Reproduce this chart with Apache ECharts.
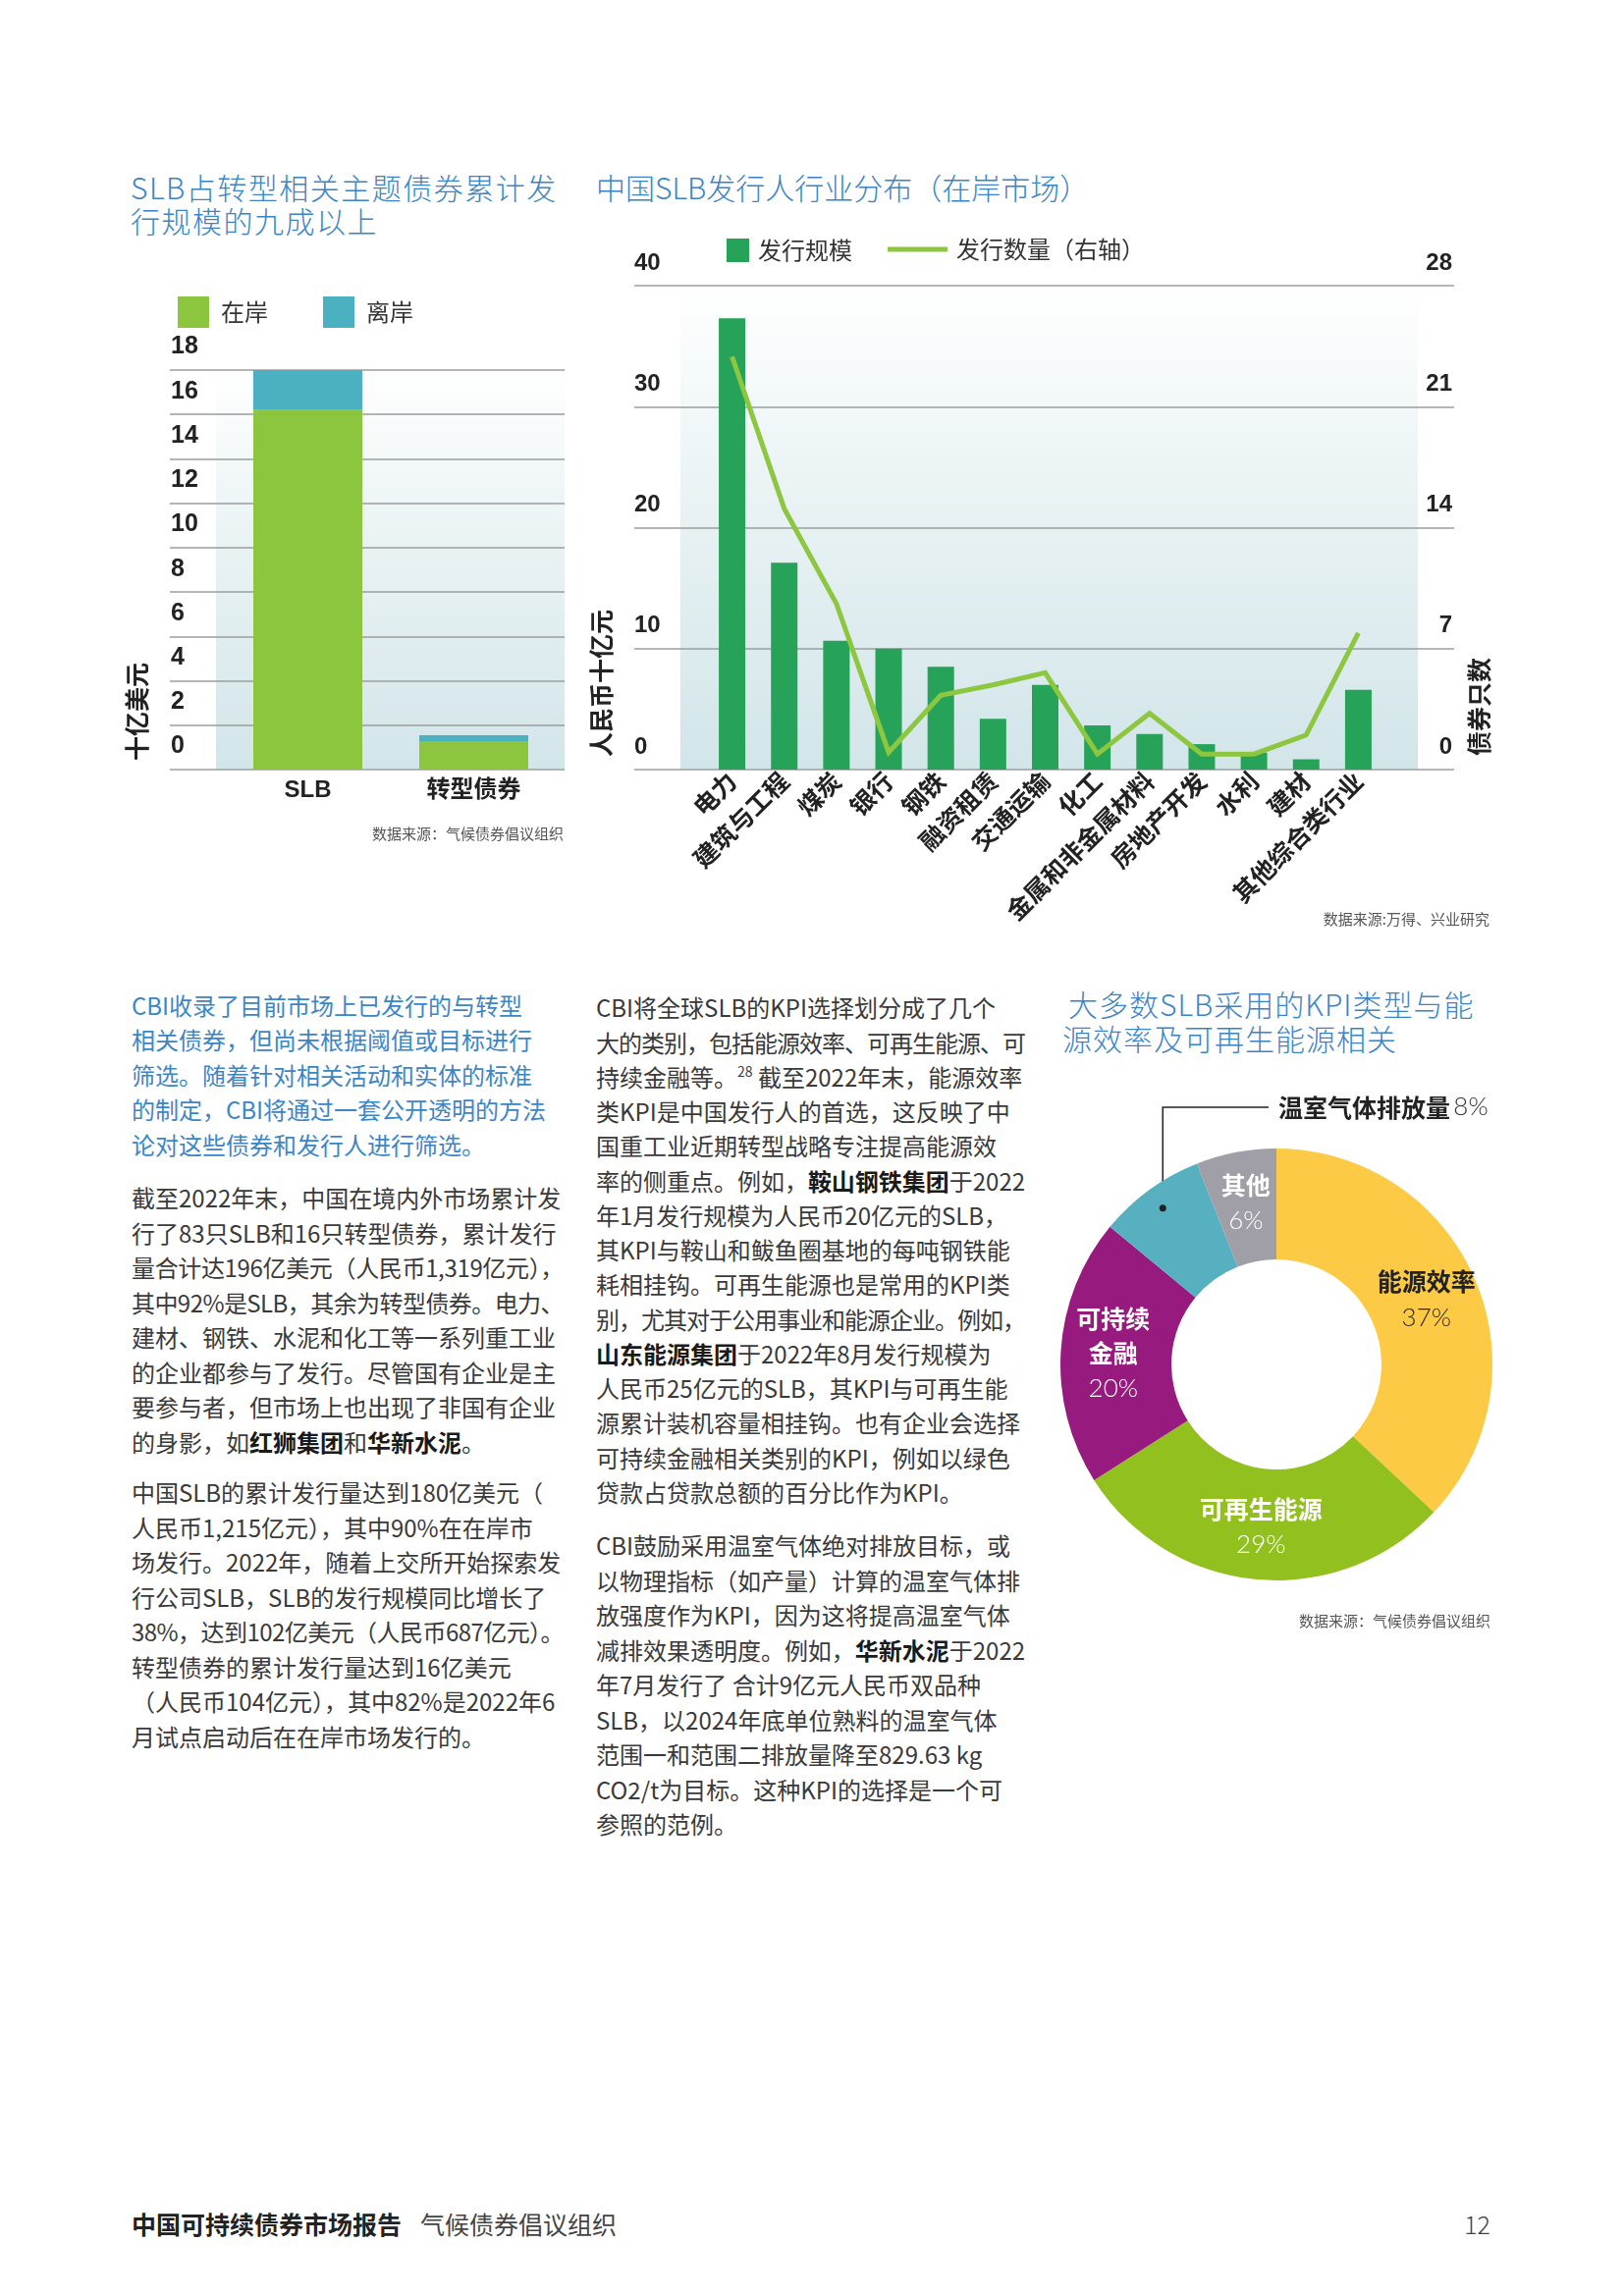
<!DOCTYPE html>
<html><head><meta charset="utf-8">
<script src="https://cdn.jsdelivr.net/npm/echarts/dist/echarts.min.js"></script>
<style>
html,body{margin:0;padding:0;background:#fff;}
body{width:1654px;height:2339px;position:relative;overflow:hidden;font-family:'Noto Sans CJK SC','Noto Sans',sans-serif;}
.abs{position:absolute;white-space:nowrap;}
.title{color:#3d84c4;font-size:30px;line-height:34px;font-weight:300;}
.src{font-size:15px;line-height:20px;color:#555;}
.vname{font-size:25px;font-weight:700;color:#222;transform:translate(-50%,-50%) rotate(-90deg);line-height:30px;}
.p{position:absolute;font-size:24px;color:#3a3a3a;white-space:nowrap;}
.p div{white-space:nowrap;}
.p b{color:#1a1a1a;font-weight:700;}
.blue{color:#3d86c6;}
.chart{position:absolute;}
sup{font-size:14px;line-height:0;vertical-align:10px;}
</style></head>
<body>

<div class="abs title" style="left:133px;top:173px;letter-spacing:1.5px;">SLB占转型相关主题债券累计发<br>行规模的九成以上</div>
<div class="abs title" style="left:607px;top:173px;">中国SLB发行人行业分布（在岸市场）</div>
<div class="abs title" style="left:1088px;top:1005px;letter-spacing:1px;">大多数SLB采用的KPI类型与能</div>
<div class="abs title" style="left:1082px;top:1040px;letter-spacing:1px;">源效率及可再生能源相关</div>

<div id="c1" class="chart" style="left:100px;top:270px;width:520px;height:570px;"></div>
<div id="c2" class="chart" style="left:590px;top:220px;width:960px;height:740px;"></div>
<div id="c3" class="chart" style="left:1060px;top:1090px;width:500px;height:580px;"></div>

<div class="abs vname" style="left:138px;top:725px;">十亿美元</div>
<div class="abs vname" style="left:611px;top:696px;">人民币十亿元</div>
<div class="abs vname" style="left:1505px;top:720px;">债券只数</div>

<div class="abs src" style="right:1080px;top:839px;">数据来源：气候债券倡议组织</div>
<div class="abs src" style="right:137px;top:926px;">数据来源:万得、兴业研究</div>
<div class="abs src" style="right:136px;top:1641px;">数据来源：气候债券倡议组织</div>

<div class="p blue" data-w="440" style="left:134px;top:1005.75px;line-height:35.5px;">
<div>CBI收录了目前市场上已发行的与转型</div>
<div>相关债券，但尚未根据阈值或目标进行</div>
<div>筛选。随着针对相关活动和实体的标准</div>
<div>的制定，CBI将通过一套公开透明的方法</div>
<div>论对这些债券和发行人进行筛选。</div>
</div>
<div class="p" data-w="440" style="left:134px;top:1202px;line-height:35.5px;">
<div>截至2022年末，中国在境内外市场累计发</div>
<div>行了83只SLB和16只转型债券，累计发行</div>
<div>量合计达196亿美元（人民币1,319亿元），</div>
<div>其中92%是SLB，其余为转型债券。电力、</div>
<div>建材、钢铁、水泥和化工等一系列重工业</div>
<div>的企业都参与了发行。尽管国有企业是主</div>
<div>要参与者，但市场上也出现了非国有企业</div>
<div>的身影，如<b>红狮集团</b>和<b>华新水泥</b>。</div>
</div>
<div class="p" data-w="440" style="left:134px;top:1502px;line-height:35.5px;">
<div>中国SLB的累计发行量达到180亿美元（</div>
<div>人民币1,215亿元），其中90%在在岸市</div>
<div>场发行。2022年，随着上交所开始探索发</div>
<div>行公司SLB，SLB的发行规模同比增长了</div>
<div>38%，达到102亿美元（人民币687亿元）。</div>
<div>转型债券的累计发行量达到16亿美元</div>
<div>（人民币104亿元），其中82%是2022年6</div>
<div>月试点启动后在在岸市场发行的。</div>
</div>

<div class="p" data-w="437" style="left:607px;top:1008.4px;line-height:35.25px;">
<div>CBI将全球SLB的KPI选择划分成了几个</div>
<div>大的类别，包括能源效率、可再生能源、可</div>
<div>持续金融等。<sup>28</sup> 截至2022年末，能源效率</div>
<div>类KPI是中国发行人的首选，这反映了中</div>
<div>国重工业近期转型战略专注提高能源效</div>
<div>率的侧重点。例如，<b>鞍山钢铁集团</b>于2022</div>
<div>年1月发行规模为人民币20亿元的SLB，</div>
<div>其KPI与鞍山和鲅鱼圈基地的每吨钢铁能</div>
<div>耗相挂钩。可再生能源也是常用的KPI类</div>
<div>别，尤其对于公用事业和能源企业。例如，</div>
<div><b>山东能源集团</b>于2022年8月发行规模为</div>
<div>人民币25亿元的SLB，其KPI与可再生能</div>
<div>源累计装机容量相挂钩。也有企业会选择</div>
<div>可持续金融相关类别的KPI，例如以绿色</div>
<div>贷款占贷款总额的百分比作为KPI。</div>
</div>
<div class="p" data-w="437" style="left:607px;top:1556px;line-height:35.5px;">
<div>CBI鼓励采用温室气体绝对排放目标，或</div>
<div>以物理指标（如产量）计算的温室气体排</div>
<div>放强度作为KPI，因为这将提高温室气体</div>
<div>减排效果透明度。例如，<b>华新水泥</b>于2022</div>
<div>年7月发行了 合计9亿元人民币双品种</div>
<div>SLB，以2024年底单位熟料的温室气体</div>
<div>范围一和范围二排放量降至829.63 kg</div>
<div>CO2/t为目标。这种KPI的选择是一个可</div>
<div>参照的范例。</div>
</div>

<div class="abs" style="left:134px;top:2248px;line-height:34px;font-size:25px;font-weight:700;color:#222;">中国可持续债券市场报告</div>
<div class="abs" style="left:428px;top:2248px;line-height:34px;font-size:25px;color:#444;">气候债券倡议组织</div>
<div class="abs" style="right:136px;top:2248px;line-height:34px;font-size:25px;color:#444;font-weight:300;">12</div>

<script>
// ---------- Chart 1 data ----------
const bondTypes = ['SLB', '转型债券'];
const onshoreValues = [16.2, 1.25];
const offshoreValues = [1.8, 0.3];
const c1AxisMin = 0, c1AxisMax = 18, c1AxisStep = 2;

// ---------- Chart 2 data ----------
const industries = ['电力','建筑与工程','煤炭','银行','钢铁','融资租赁','交通运输','化工','金属和非金属材料','房地产开发','水利','建材','其他综合类行业'];
const issueSize = [37.3, 17.1, 10.65, 10.0, 8.5, 4.2, 7.0, 3.65, 2.95, 2.1, 1.4, 0.85, 6.6];
const issueCount = [23.9, 15.1, 9.6, 1.0, 4.3, 4.9, 5.6, 0.9, 3.25, 0.9, 0.9, 2.0, 7.9];
const leftAxisMax = 40, leftAxisStep = 10;
const rightAxisMax = 28, rightAxisStep = 7;

// ---------- Chart 3 data ----------
const kpiNames = ['能源效率','可再生能源','可持续金融','温室气体排放量','其他'];
const kpiShares = [37, 29, 20, 8, 6];
const kpiLabelText = ['能源效率','可再生能源','可持续\n金融','温室气体排放量','其他'];

// fit over-wide text lines into the column
document.querySelectorAll('.p').forEach(p => {
  const maxW = +p.dataset.w;
  p.querySelectorAll(':scope > div').forEach(d => {
    d.style.display = 'inline-block';
    const w = d.getBoundingClientRect().width;
    const n = d.textContent.length;
    if (w > maxW && n > 1) d.style.letterSpacing = ((maxW - w) / n) + 'px';
    d.style.display = 'block';
  });
});

const CJK = "'Noto Sans CJK SC','Noto Sans',sans-serif";
const NUM = "'Liberation Sans','Noto Sans CJK SC',sans-serif";
const bgGrad = () => new echarts.graphic.LinearGradient(0, 0, 0, 1, [
  {offset: 0, color: 'rgba(255,255,255,1)'},
  {offset: 0.35, color: '#edf5f6'},
  {offset: 1, color: '#d2e5e9'}
]);

// ===== Chart 1 =====
const c1 = echarts.init(document.getElementById('c1'), null, {renderer: 'canvas'});
c1.setOption({
  animation: false,
  textStyle: {fontFamily: CJK},
  legend: {
    left: 76, top: 27, itemWidth: 32, itemHeight: 32, itemGap: 56, icon: 'rect',
    textStyle: {fontSize: 24, color: '#333', fontFamily: CJK, padding: [0, 0, 0, 7]},
    data: ['在岸', '离岸']
  },
  grid: [
    {left: 73, top: 107, width: 402, height: 407, outerBoundsMode: 'none'},
    {left: 120, top: 107, width: 355, height: 407, show: true, borderWidth: 0, backgroundColor: bgGrad(), z: -1, outerBoundsMode: 'none'},
    {left: 129, top: 107, width: 338, height: 407, outerBoundsMode: 'none'}
  ],
  xAxis: [
    {gridIndex: 0, type: 'value', show: false, min: 0, max: 1},
    {gridIndex: 1, type: 'value', show: false, min: 0, max: 1},
    {gridIndex: 2, type: 'category', data: bondTypes, axisLine: {show: false}, axisTick: {show: false},
     axisLabel: {margin: 9, fontSize: 24, fontWeight: 'bold', color: '#222', fontFamily: NUM}}
  ],
  yAxis: [
    {gridIndex: 0, type: 'value', min: c1AxisMin, max: c1AxisMax, interval: c1AxisStep,
     axisLine: {show: false}, axisTick: {show: false},
     axisLabel: {inside: true, margin: 1, fontSize: 25, fontWeight: 'bold', color: '#222', fontFamily: NUM,
                 verticalAlign: 'bottom', padding: [0, 0, 11, 0]},
     splitLine: {show: true, lineStyle: {color: '#9c9c9c', width: 1.5}}},
    {gridIndex: 1, type: 'value', show: false, min: c1AxisMin, max: c1AxisMax, splitLine: {show: false}},
    {gridIndex: 2, type: 'value', show: false, min: c1AxisMin, max: c1AxisMax, splitLine: {show: false}}
  ],
  series: [
    {name: '在岸', type: 'bar', stack: 'total', xAxisIndex: 2, yAxisIndex: 2, barWidth: 111,
     itemStyle: {color: '#8cc63f'}, data: onshoreValues},
    {name: '离岸', type: 'bar', stack: 'total', xAxisIndex: 2, yAxisIndex: 2, barWidth: 111,
     itemStyle: {color: '#4bb0bf'}, data: offshoreValues}
  ]
});

// ===== Chart 2 =====
const c2 = echarts.init(document.getElementById('c2'), null, {renderer: 'canvas'});
c2.setOption({
  animation: false,
  textStyle: {fontFamily: CJK},
  legend: [
    {data: ['发行规模'], left: 145, top: 18, itemWidth: 23, itemHeight: 24, icon: 'rect',
     textStyle: {fontSize: 24, color: '#333', fontFamily: CJK, padding: [0, 0, 0, 4]}},
    {data: ['发行数量（右轴）'], left: 309, top: 17, itemWidth: 61, itemHeight: 5, icon: 'rect',
     itemStyle: {color: '#8dc63f'},
     textStyle: {fontSize: 24, color: '#333', fontFamily: CJK, padding: [0, 0, 0, 4]}}
  ],
  grid: [
    {left: 56, top: 71, width: 835, height: 493, outerBoundsMode: 'none'},
    {left: 103, top: 71, width: 751, height: 493, show: true, borderWidth: 0, backgroundColor: bgGrad(), z: -1, outerBoundsMode: 'none'},
    {left: 129, top: 71, width: 691, height: 493, outerBoundsMode: 'none'}
  ],
  xAxis: [
    {gridIndex: 0, type: 'value', show: false, min: 0, max: 1},
    {gridIndex: 1, type: 'value', show: false, min: 0, max: 1},
    {gridIndex: 2, type: 'category', data: industries, axisLine: {show: false}, axisTick: {show: false},
     axisLabel: {interval: 0, rotate: 45, margin: 7, fontSize: 25, fontWeight: 'bold', color: '#222', fontFamily: CJK}}
  ],
  yAxis: [
    {gridIndex: 0, type: 'value', position: 'left', min: 0, max: leftAxisMax, interval: leftAxisStep,
     axisLine: {show: false}, axisTick: {show: false},
     axisLabel: {inside: true, margin: 0, fontSize: 24, fontWeight: 'bold', color: '#222', fontFamily: NUM,
                 verticalAlign: 'bottom', padding: [0, 0, 11, 0]},
     splitLine: {show: true, lineStyle: {color: '#9c9c9c', width: 1.5}}},
    {gridIndex: 0, type: 'value', position: 'right', min: 0, max: rightAxisMax, interval: rightAxisStep,
     axisLine: {show: false}, axisTick: {show: false}, splitLine: {show: false},
     axisLabel: {inside: true, margin: 2, fontSize: 24, fontWeight: 'bold', color: '#222', fontFamily: NUM,
                 verticalAlign: 'bottom', padding: [0, 0, 11, 0]}},
    {gridIndex: 1, type: 'value', show: false, min: 0, max: leftAxisMax, splitLine: {show: false}},
    {gridIndex: 2, type: 'value', show: false, min: 0, max: leftAxisMax, splitLine: {show: false}},
    {gridIndex: 2, type: 'value', show: false, min: 0, max: rightAxisMax, splitLine: {show: false}}
  ],
  series: [
    {name: '发行规模', type: 'bar', xAxisIndex: 2, yAxisIndex: 3, barWidth: 27,
     itemStyle: {color: '#26a358'}, data: issueSize},
    {name: '发行数量（右轴）', type: 'line', xAxisIndex: 2, yAxisIndex: 4, symbol: 'none',
     lineStyle: {color: '#8dc63f', width: 5, join: 'miter'}, itemStyle: {color: '#8dc63f'}, data: issueCount, z: 3}
  ]
});

// ===== Chart 3 =====
const c3 = echarts.init(document.getElementById('c3'), null, {renderer: 'canvas'});
const pieCenter = [240, 300];
const pieRadius = [107, 220];
const kpiColors = ['#fdca45', '#92c11f', '#971b7f', '#57b0c0', '#a09fa8'];
const total = kpiShares.reduce((a, b) => a + b, 0);
const before = kpiShares.slice(0, 3).reduce((a, b) => a + b, 0);
const midFrac = (before + kpiShares[3] / 2) / total;
const midAng = (90 - midFrac * 360) * Math.PI / 180;
const dotR = pieRadius[1] * 0.895;
const dot = [pieCenter[0] + dotR * Math.cos(midAng), pieCenter[1] - dotR * Math.sin(midAng)];
const ghgLabelPos = [242, 38];

const rich = {
  nd: {fontSize: 25, fontWeight: 'bold', color: '#222', lineHeight: 37, fontFamily: CJK},
  pd: {fontSize: 26, color: '#2a2a2a', lineHeight: 37, fontFamily: "'Lato','Noto Sans',sans-serif", fontWeight: 300},
  nw: {fontSize: 25, fontWeight: 'bold', color: '#fff', lineHeight: 35, fontFamily: CJK},
  pw: {fontSize: 26, color: '#fff', lineHeight: 37, fontFamily: "'Lato','Noto Sans',sans-serif", fontWeight: 300},
  no: {fontSize: 25, fontWeight: 'bold', color: '#222', fontFamily: CJK},
  po: {fontSize: 26, color: '#333', fontFamily: "'Lato','Noto Sans',sans-serif", fontWeight: 300}
};

c3.setOption({
  animation: false,
  series: [{
    type: 'pie', center: pieCenter, radius: pieRadius, startAngle: 90, clockwise: true,
    avoidLabelOverlap: false, silent: true,
    data: kpiNames.map((n, i) => {
      const item = {name: n, value: kpiShares[i], itemStyle: {color: kpiColors[i]}};
      if (i === 3) {
        item.label = {show: true, position: 'outside', rich: rich,
          formatter: () => '{no|' + kpiLabelText[i] + '} {po|' + kpiShares[i] + '%}'};
        item.labelLine = {show: true, lineStyle: {color: '#222', width: 1.5}};
      } else {
        const dark = (i === 0);
        const nk = dark ? 'nd' : 'nw', pk = dark ? 'pd' : 'pw';
        const lines = kpiLabelText[i].split('\n').map(s => '{' + nk + '|' + s + '}').join('\n');
        item.label = {show: true, position: 'inside', rich: rich,
          formatter: () => lines + '\n{' + pk + '|' + kpiShares[i] + '%}'};
        item.labelLine = {show: false};
      }
      return item;
    }),
    labelLayout: function (params) {
      if (params.dataIndex !== 3) return {};
      return {
        x: ghgLabelPos[0], y: ghgLabelPos[1], align: 'left', verticalAlign: 'middle',
        labelLinePoints: [[dot[0], dot[1]], [dot[0], ghgLabelPos[1]], [ghgLabelPos[0] - 10, ghgLabelPos[1]]]
      };
    }
  }],
  graphic: [{type: 'circle', shape: {cx: dot[0], cy: dot[1], r: 3.5}, style: {fill: '#222'}, z: 10}]
});
</script>
</body></html>
